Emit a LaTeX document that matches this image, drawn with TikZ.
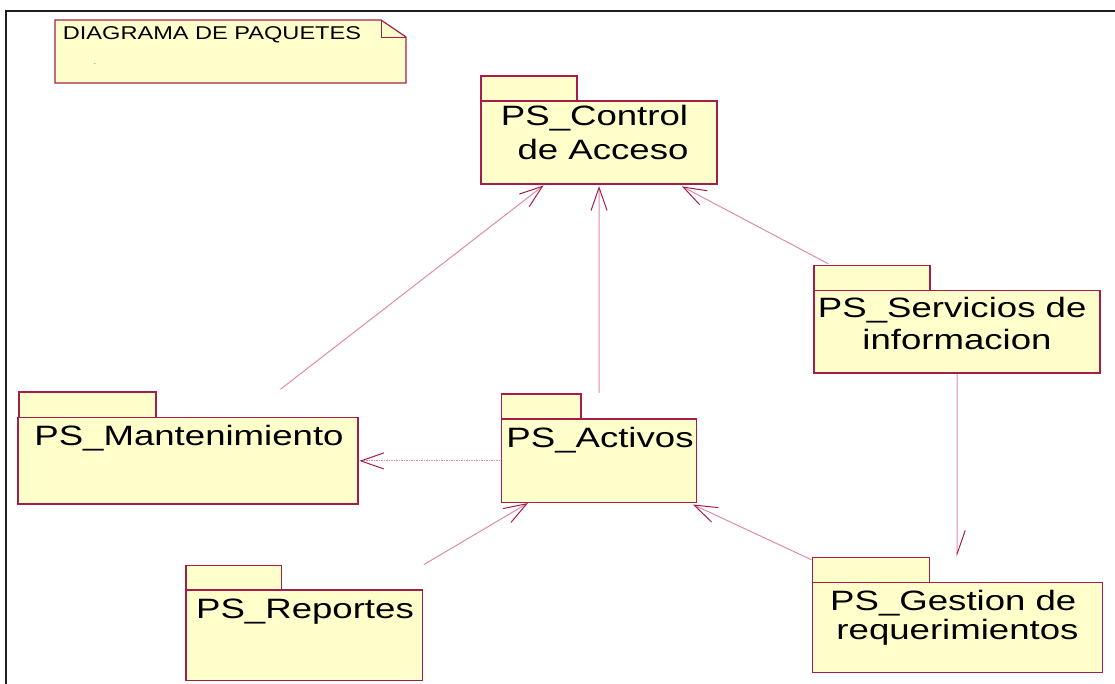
\documentclass[tikz,border=0pt]{standalone}
\usepackage{fontspec}
\setmainfont{Liberation Sans}
\usetikzlibrary{arrows.meta,calc}

\definecolor{pkgline}{RGB}{165,30,75}
\definecolor{pkgfill}{RGB}{255,255,204}
\definecolor{depline}{RGB}{222,140,170}
\definecolor{framecol}{RGB}{30,30,30}

% package names are set wide, as the modelling tool prints them
\newcommand\wide[1]{\scalebox{1.307}[1]{#1}}

\begin{document}
\begin{tikzpicture}[x=1pt,y=-1pt,
  pkgbody/.style={rectangle, draw=pkgline, fill=pkgfill, line width=1.2pt,
    inner sep=0pt, outer sep=0pt},
  pkgtab/.style={draw=pkgline, fill=pkgfill, line width=1.2pt},
  pkgtext/.style={anchor=base, inner sep=0pt, font=\fontsize{28}{34}\selectfont},
  notebox/.style={draw=pkgline, fill=pkgfill, line width=1.2pt},
  dep/.style={draw=depline, line width=1pt,
    -{Straight Barb[length=23pt,width=16pt,color=pkgline,line width=1pt]}},
  halfdep/.style={draw=depline, line width=1pt,
    -{Straight Barb[harpoon,length=23pt,width=16pt,color=pkgline,line width=1pt]}},
  weakdep/.style={dep, dash pattern=on 1.5pt off 1pt},
]
\useasboundingbox (0,0) rectangle (1115,684);

% diagram frame
\draw[framecol, line width=2pt] (5.5,684) -- (5.5,11) -- (1115,11);

% title note with folded corner
\filldraw[notebox] (55,20) -- (381,20) -- (406,37) -- (406,83) -- (55,83) -- cycle;
\draw[pkgline, line width=0.8pt] (381,20) -- (381,37) -- (406,37);
\node[anchor=base west, inner sep=0pt, font=\fontsize{18.5}{20}\selectfont]
  (notetitle) at (62.7,39.3) {\scalebox{1.274}[1]{DIAGRAMA DE PAQUETES}};
\node[inner sep=0pt, text=pkgline, font=\fontsize{8}{8}\selectfont]
  (notedot) at (95,64) {.};

% package bodies
\node[pkgbody, minimum width=236pt, minimum height=83pt]   (ctrl) at (599,142.5) {};
\node[pkgbody, minimum width=286pt, minimum height=82.3pt] (serv) at (957,331.9) {};
\node[pkgbody, minimum width=340pt, minimum height=86.3pt] (mant) at (188,460.9) {};
\node[pkgbody, minimum width=195pt, minimum height=83.7pt] (act)  at (599.2,460.9) {};
\node[pkgbody, minimum width=236.3pt, minimum height=90.7pt] (rep) at (304.2,635.4) {};
\node[pkgbody, minimum width=290pt, minimum height=90pt]   (gest) at (957.3,627.7) {};

% package tabs
\filldraw[pkgtab] (ctrl.north west) rectangle ++(96,-25);
\filldraw[pkgtab] (serv.north west) rectangle ++(116,-25);
\filldraw[pkgtab] (mant.north west) ++(1,0) rectangle ++(137,-25.7);
\filldraw[pkgtab] (act.north west) rectangle ++(79.3,-25);
\filldraw[pkgtab] (rep.north west) rectangle ++(95.7,-24.7);
\filldraw[pkgtab] (gest.north west) rectangle ++(117,-25);

% package names
\node[pkgtext] (ctrlA) at (594.5,126) {\wide{PS\_Control}};
\node[pkgtext] (ctrlB) at (603,160) {\wide{de Acceso}};
\node[pkgtext] (servA) at (952.2,317) {\wide{PS\_Servicios de}};
\node[pkgtext] (servB) at (957,349) {\wide{informacion}};
\node[pkgtext] (mantA) at (189,445) {\wide{PS\_Mantenimiento}};
\node[pkgtext] (actA)  at (600,447.7) {\wide{PS\_Activos}};
\node[pkgtext] (repA)  at (305,618.3) {\wide{PS\_Reportes}};
\node[pkgtext] (gestA) at (953.3,610) {\wide{PS\_Gestion de}};
\node[pkgtext] (gestB) at (957.5,639.5) {\wide{requerimientos}};

% dependencies between packages
\draw[dep, shorten <=117pt, shorten >=70pt]     (mant.center) -- (ctrl.center);
\draw[dep, shorten <=68pt, shorten >=43.5pt]    (act.center)  -- (ctrl.center);
\draw[dep, shorten <=145.8pt, shorten >=93.8pt] (serv.center) -- (ctrl.center);
\draw[halfdep, shorten <=42pt, shorten >=71.3pt] (serv.center) -- (gest.center);
\draw[weakdep, shorten <=99pt, shorten >=171.3pt] (act.center) -- (mant.center);
\draw[dep, shorten <=139.1pt, shorten >=82.7pt] (rep.center)  -- (act.center);
\draw[dep, shorten <=161pt, shorten >=103.2pt]  (gest.center) -- (act.center);
\end{tikzpicture}
\end{document}
